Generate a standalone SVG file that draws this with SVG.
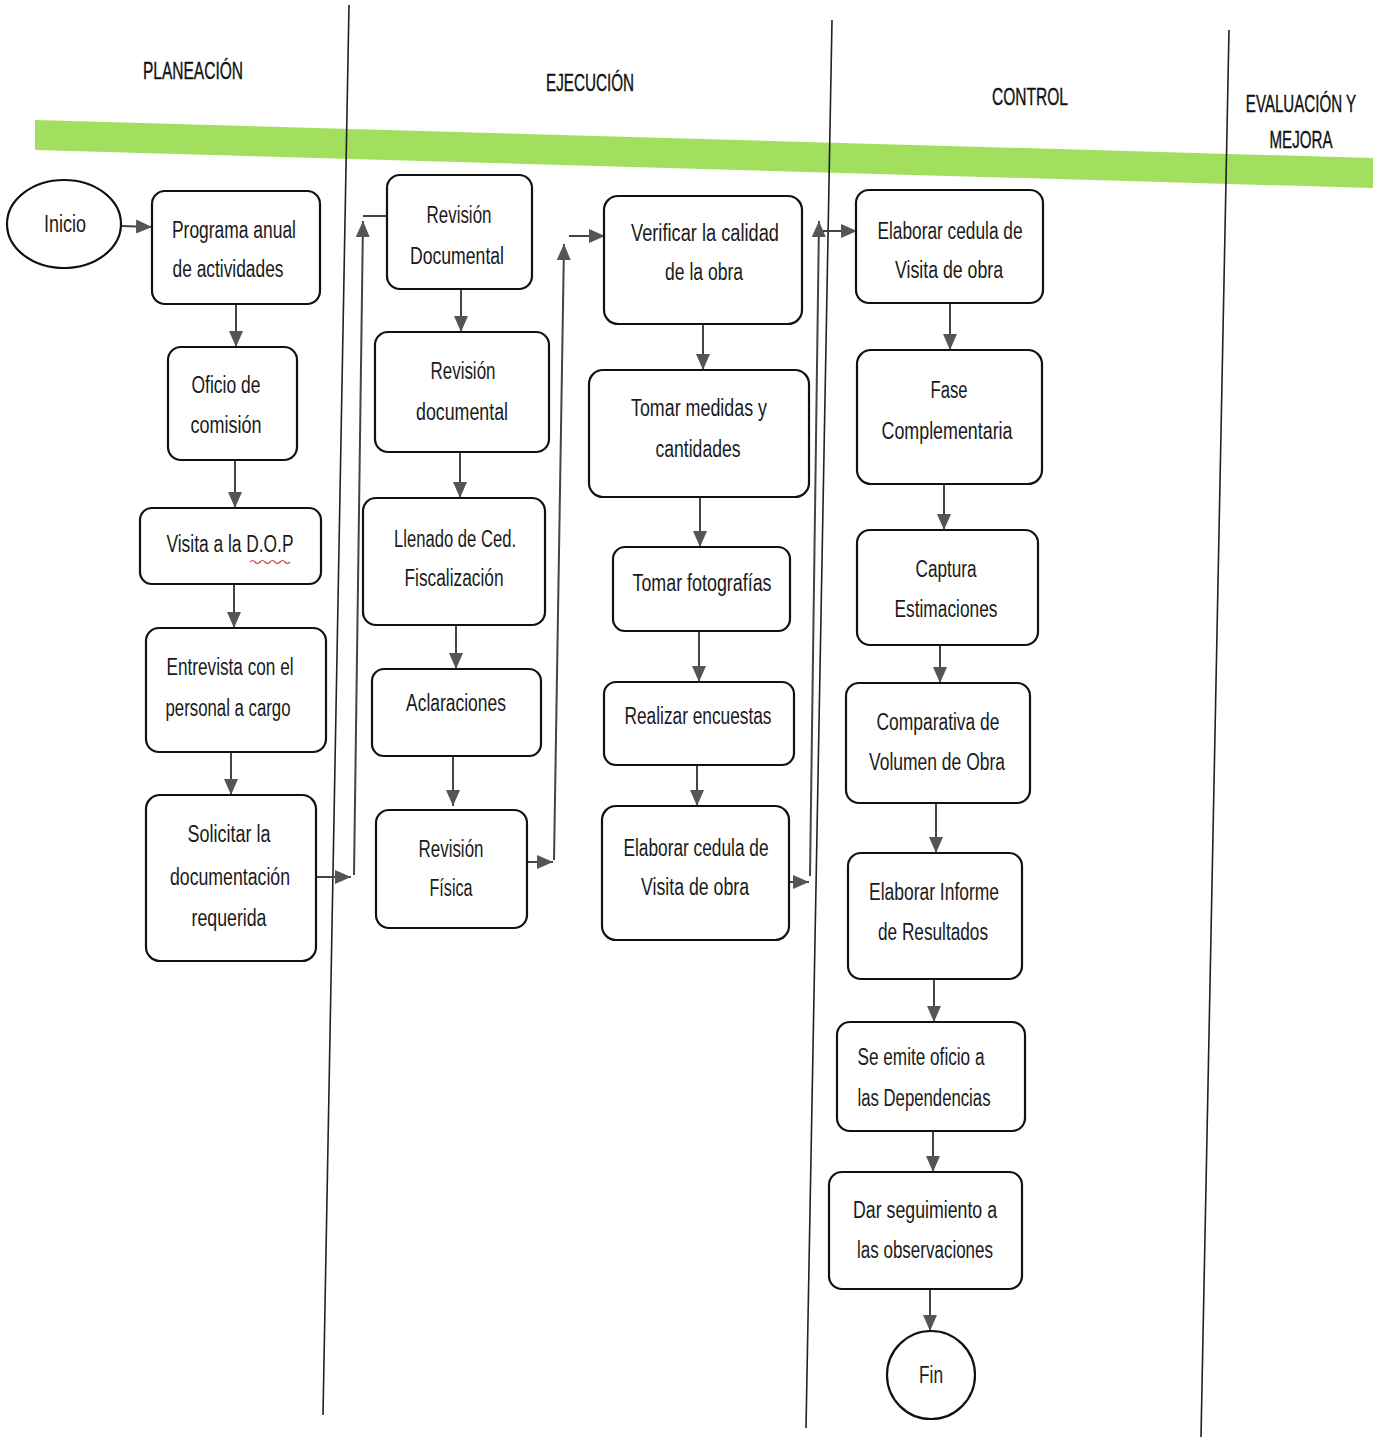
<svg xmlns="http://www.w3.org/2000/svg" width="1373" height="1439" viewBox="0 0 1373 1439">
<style>
.bx{fill:#fff;stroke:#111;stroke-width:2.2}
.t{font-family:"Liberation Sans",Arial,sans-serif;font-size:23px;fill:#1a1a1a;text-anchor:middle}
.h{font-family:"Liberation Sans",Arial,sans-serif;font-size:24px;fill:#111;stroke:#111;stroke-width:0.4;text-anchor:middle}
.c{stroke:#444;stroke-width:2;fill:none}
.lane{stroke:#222;stroke-width:1.6}
</style>
<defs>
<marker id="ah" viewBox="0 0 16 14" refX="16" refY="7" markerWidth="16" markerHeight="14" orient="auto" markerUnits="userSpaceOnUse">
<path d="M0,0 L16,7 L0,14 z" fill="#555"/>
</marker>
</defs>
<rect width="1373" height="1439" fill="#fff"/>
<g id="band">
<polygon points="35,120 1373,158 1373,188 35,150" fill="#a3df5e"/>
</g>
<g id="lanes">
<line class="lane" x1="349" y1="5" x2="323" y2="1415"/>
<line class="lane" x1="832" y1="20" x2="806" y2="1428"/>
<line class="lane" x1="1229" y1="30" x2="1201" y2="1437"/>
</g>
<g id="headers">
<text class="h" x="193" y="79" textLength="100" lengthAdjust="spacingAndGlyphs">PLANEACIÓN</text>
<text class="h" x="590" y="91" textLength="88" lengthAdjust="spacingAndGlyphs">EJECUCIÓN</text>
<text class="h" x="1030" y="105" textLength="76" lengthAdjust="spacingAndGlyphs">CONTROL</text>
<text class="h" transform="translate(1301,112) scale(0.63,1)" x="0" y="0">EVALUACIÓN Y</text>
<text class="h" transform="translate(1301,148) scale(0.63,1)" x="0" y="0">MEJORA</text>
</g>
<g id="connectors">
<line class="c" x1="121" y1="226" x2="152" y2="227" marker-end="url(#ah)"/>
<line class="c" x1="236" y1="304" x2="236" y2="347" marker-end="url(#ah)"/>
<line class="c" x1="235" y1="460" x2="235" y2="508" marker-end="url(#ah)"/>
<line class="c" x1="234" y1="584" x2="234" y2="628" marker-end="url(#ah)"/>
<line class="c" x1="231" y1="752" x2="231" y2="795" marker-end="url(#ah)"/>
<line class="c" x1="316" y1="877" x2="351" y2="877" marker-end="url(#ah)"/>
<line class="c" x1="354" y1="875" x2="363" y2="221" marker-end="url(#ah)"/>
<line class="c" x1="363" y1="216" x2="387" y2="216"/>
<line class="c" x1="461" y1="289" x2="461" y2="332" marker-end="url(#ah)"/>
<line class="c" x1="460" y1="452" x2="460" y2="498" marker-end="url(#ah)"/>
<line class="c" x1="456" y1="625" x2="456" y2="669" marker-end="url(#ah)"/>
<line class="c" x1="453" y1="756" x2="453" y2="806" marker-end="url(#ah)"/>
<line class="c" x1="527" y1="862" x2="553" y2="862" marker-end="url(#ah)"/>
<line class="c" x1="554" y1="860" x2="564" y2="244" marker-end="url(#ah)"/>
<line class="c" x1="569" y1="236" x2="605" y2="236" marker-end="url(#ah)"/>
<line class="c" x1="703" y1="324" x2="703" y2="370" marker-end="url(#ah)"/>
<line class="c" x1="700" y1="497" x2="700" y2="547" marker-end="url(#ah)"/>
<line class="c" x1="699" y1="631" x2="699" y2="682" marker-end="url(#ah)"/>
<line class="c" x1="697" y1="765" x2="697" y2="806" marker-end="url(#ah)"/>
<line class="c" x1="789" y1="882" x2="809" y2="882" marker-end="url(#ah)"/>
<line class="c" x1="810" y1="876" x2="819" y2="221" marker-end="url(#ah)"/>
<line class="c" x1="823" y1="231" x2="857" y2="231" marker-end="url(#ah)"/>
<line class="c" x1="950" y1="303" x2="950" y2="350" marker-end="url(#ah)"/>
<line class="c" x1="944" y1="484" x2="944" y2="530" marker-end="url(#ah)"/>
<line class="c" x1="940" y1="645" x2="940" y2="683" marker-end="url(#ah)"/>
<line class="c" x1="936" y1="803" x2="936" y2="853" marker-end="url(#ah)"/>
<line class="c" x1="934" y1="979" x2="934" y2="1022" marker-end="url(#ah)"/>
<line class="c" x1="933" y1="1131" x2="933" y2="1172" marker-end="url(#ah)"/>
<line class="c" x1="930" y1="1289" x2="930" y2="1331" marker-end="url(#ah)"/>
</g>
<g id="inicio"><ellipse class="bx" cx="64" cy="224" rx="57" ry="44"/><text class="t" x="65" y="232" textLength="42" lengthAdjust="spacingAndGlyphs">Inicio</text></g>
<g id="programa"><rect class="bx" x="152" y="191" width="168" height="113" rx="13"/><text class="t" x="234" y="238" textLength="124" lengthAdjust="spacingAndGlyphs">Programa anual</text><text class="t" x="228" y="277" textLength="111" lengthAdjust="spacingAndGlyphs">de actividades</text></g>
<g id="oficio"><rect class="bx" x="168" y="347" width="129" height="113" rx="13"/><text class="t" x="226" y="393" textLength="69" lengthAdjust="spacingAndGlyphs">Oficio de</text><text class="t" x="226" y="433" textLength="71" lengthAdjust="spacingAndGlyphs">comisión</text></g>
<g id="visita"><rect class="bx" x="140" y="508" width="181" height="76" rx="12"/><text class="t" x="230" y="552" textLength="127" lengthAdjust="spacingAndGlyphs">Visita a la D.O.P</text><path d="M250,562 q2.5,-3 5,0 t5,0 t5,0 t5,0 t5,0 t5,0 t5,0 t5,0" fill="none" stroke="#d23c3c" stroke-width="1.2"/></g>
<g id="entrevista"><rect class="bx" x="146" y="628" width="180" height="124" rx="13"/><text class="t" x="230" y="675" textLength="127" lengthAdjust="spacingAndGlyphs">Entrevista con el</text><text class="t" x="228" y="716" textLength="125" lengthAdjust="spacingAndGlyphs">personal a cargo</text></g>
<g id="solicitar"><rect class="bx" x="146" y="795" width="170" height="166" rx="14"/><text class="t" x="229" y="842" textLength="83" lengthAdjust="spacingAndGlyphs">Solicitar la</text><text class="t" x="230" y="885" textLength="120" lengthAdjust="spacingAndGlyphs">documentación</text><text class="t" x="229" y="926" textLength="75" lengthAdjust="spacingAndGlyphs">requerida</text></g>
<g id="revdoc1"><rect class="bx" x="387" y="175" width="145" height="114" rx="13"/><text class="t" x="459" y="223" textLength="65" lengthAdjust="spacingAndGlyphs">Revisión</text><text class="t" x="457" y="264" textLength="94" lengthAdjust="spacingAndGlyphs">Documental</text></g>
<g id="revdoc2"><rect class="bx" x="375" y="332" width="174" height="120" rx="13"/><text class="t" x="463" y="379" textLength="65" lengthAdjust="spacingAndGlyphs">Revisión</text><text class="t" x="462" y="420" textLength="92" lengthAdjust="spacingAndGlyphs">documental</text></g>
<g id="llenado"><rect class="bx" x="363" y="498" width="182" height="127" rx="13"/><text class="t" x="455" y="547" textLength="122" lengthAdjust="spacingAndGlyphs">Llenado de Ced.</text><text class="t" x="454" y="586" textLength="99" lengthAdjust="spacingAndGlyphs">Fiscalización</text></g>
<g id="aclaraciones"><rect class="bx" x="372" y="669" width="169" height="87" rx="12"/><text class="t" x="456" y="711" textLength="100" lengthAdjust="spacingAndGlyphs">Aclaraciones</text></g>
<g id="revfisica"><rect class="bx" x="376" y="810" width="151" height="118" rx="13"/><text class="t" x="451" y="857" textLength="65" lengthAdjust="spacingAndGlyphs">Revisión</text><text class="t" x="451" y="896" textLength="43" lengthAdjust="spacingAndGlyphs">Física</text></g>
<g id="verificar"><rect class="bx" x="604" y="196" width="198" height="128" rx="14"/><text class="t" x="705" y="241" textLength="148" lengthAdjust="spacingAndGlyphs">Verificar la calidad</text><text class="t" x="704" y="280" textLength="78" lengthAdjust="spacingAndGlyphs">de la obra</text></g>
<g id="medidas"><rect class="bx" x="589" y="370" width="220" height="127" rx="14"/><text class="t" x="699" y="416" textLength="136" lengthAdjust="spacingAndGlyphs">Tomar medidas y</text><text class="t" x="698" y="457" textLength="85" lengthAdjust="spacingAndGlyphs">cantidades</text></g>
<g id="fotos"><rect class="bx" x="613" y="547" width="177" height="84" rx="12"/><text class="t" x="702" y="591" textLength="139" lengthAdjust="spacingAndGlyphs">Tomar fotografías</text></g>
<g id="encuestas"><rect class="bx" x="604" y="682" width="190" height="83" rx="12"/><text class="t" x="698" y="724" textLength="147" lengthAdjust="spacingAndGlyphs">Realizar encuestas</text></g>
<g id="cedula1"><rect class="bx" x="602" y="806" width="187" height="134" rx="14"/><text class="t" x="696" y="856" textLength="145" lengthAdjust="spacingAndGlyphs">Elaborar cedula de</text><text class="t" x="695" y="895" textLength="108" lengthAdjust="spacingAndGlyphs">Visita de obra</text></g>
<g id="cedula2"><rect class="bx" x="856" y="190" width="187" height="113" rx="13"/><text class="t" x="950" y="239" textLength="145" lengthAdjust="spacingAndGlyphs">Elaborar cedula de</text><text class="t" x="949" y="278" textLength="108" lengthAdjust="spacingAndGlyphs">Visita de obra</text></g>
<g id="fase"><rect class="bx" x="857" y="350" width="185" height="134" rx="14"/><text class="t" x="949" y="398" textLength="37" lengthAdjust="spacingAndGlyphs">Fase</text><text class="t" x="947" y="439" textLength="131" lengthAdjust="spacingAndGlyphs">Complementaria</text></g>
<g id="captura"><rect class="bx" x="857" y="530" width="181" height="115" rx="13"/><text class="t" x="946" y="577" textLength="61" lengthAdjust="spacingAndGlyphs">Captura</text><text class="t" x="946" y="617" textLength="103" lengthAdjust="spacingAndGlyphs">Estimaciones</text></g>
<g id="comparativa"><rect class="bx" x="846" y="683" width="184" height="120" rx="13"/><text class="t" x="938" y="730" textLength="123" lengthAdjust="spacingAndGlyphs">Comparativa de</text><text class="t" x="937" y="770" textLength="136" lengthAdjust="spacingAndGlyphs">Volumen de Obra</text></g>
<g id="informe"><rect class="bx" x="848" y="853" width="174" height="126" rx="13"/><text class="t" x="934" y="900" textLength="130" lengthAdjust="spacingAndGlyphs">Elaborar Informe</text><text class="t" x="933" y="940" textLength="110" lengthAdjust="spacingAndGlyphs">de Resultados</text></g>
<g id="oficioDep"><rect class="bx" x="837" y="1022" width="188" height="109" rx="13"/><text class="t" x="921" y="1065" textLength="127" lengthAdjust="spacingAndGlyphs">Se emite oficio a</text><text class="t" x="924" y="1106" textLength="133" lengthAdjust="spacingAndGlyphs">las Dependencias</text></g>
<g id="seguimiento"><rect class="bx" x="829" y="1172" width="193" height="117" rx="13"/><text class="t" x="925" y="1218" textLength="144" lengthAdjust="spacingAndGlyphs">Dar seguimiento a</text><text class="t" x="925" y="1258" textLength="136" lengthAdjust="spacingAndGlyphs">las observaciones</text></g>
<g id="fin"><circle class="bx" cx="931" cy="1375" r="44"/><text class="t" x="931" y="1383" textLength="24" lengthAdjust="spacingAndGlyphs">Fin</text></g>
</svg>
